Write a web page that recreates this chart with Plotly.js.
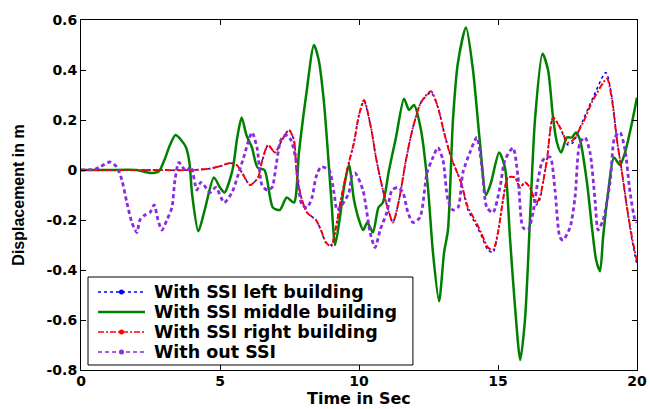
<!DOCTYPE html>
<html>
<head>
<meta charset="utf-8">
<script src="https://cdn.plot.ly/plotly-3.0.1.min.js"></script>
<style>html,body{margin:0;padding:0;background:#fff}#chart{width:650px;height:409px}</style>
</head>
<body>
<div id="chart"></div>
<script>
// Time (s) and displacement (m)
var redT = [0,2,4,4.6,5.0,5.36,5.6,5.79,6.08,6.37,6.5,6.73,6.98,7.23,7.48,7.66,7.77,7.95,8.13,8.45,8.63,8.81,9.0,9.17,9.35,9.57,9.82,10.0,10.18,10.43,10.61,10.86,11.08,11.22,11.44,11.69,11.94,12.23,12.59,12.84,13.06,13.31,13.45,13.67,13.92,14.17,14.39,14.64,14.82,15.0,15.18,15.36,15.61,15.79,15.97,16.15,16.37,16.5,16.62,16.76,16.98,17.23,17.52,17.7,18.06,18.42,18.92,19.1,19.28,19.46,19.64,19.82,20];
var redV = [0,0,0,0.005,0.015,0.028,0.02,-0.01,-0.06,-0.03,0.03,0.1,0.07,0.12,0.16,0.12,-0.03,-0.12,-0.17,-0.2,-0.24,-0.29,-0.305,-0.23,-0.12,0.0,0.11,0.22,0.28,0.17,0.05,-0.08,-0.17,-0.21,-0.12,0.04,0.17,0.27,0.315,0.25,0.15,0.05,0.012,-0.05,-0.15,-0.2,-0.25,-0.31,-0.32,-0.25,-0.12,-0.03,-0.03,-0.07,-0.05,-0.07,-0.13,-0.11,-0.05,0.04,0.21,0.17,0.11,0.12,0.19,0.28,0.365,0.28,0.12,-0.01,-0.15,-0.27,-0.365];

var blueT = [0,2,4,4.6,5.0,5.36,5.6,5.79,6.08,6.37,6.5,6.73,6.98,7.23,7.48,7.66,7.77,7.95,8.13,8.45,8.63,8.81,9.0,9.17,9.35,9.57,9.82,10.0,10.18,10.43,10.61,10.86,11.08,11.22,11.44,11.69,11.94,12.23,12.59,12.84,13.06,13.31,13.45,13.67,13.92,14.17,14.39,14.64,14.82,15.0,15.18,15.36,15.61,15.79,15.97,16.15,16.37,16.5,16.62,16.76,16.98,17.23,17.52,17.7,18.06,18.42,18.88,19.1,19.28,19.46,19.64,19.82,20];
var blueV = [0,0,0,0.005,0.015,0.028,0.02,-0.01,-0.06,-0.03,0.03,0.1,0.07,0.12,0.16,0.12,-0.03,-0.12,-0.17,-0.2,-0.24,-0.29,-0.3,-0.23,-0.12,0.0,0.11,0.22,0.275,0.17,0.05,-0.08,-0.17,-0.21,-0.12,0.04,0.17,0.27,0.31,0.25,0.15,0.05,0.012,-0.05,-0.16,-0.21,-0.26,-0.32,-0.33,-0.25,-0.12,-0.03,-0.03,-0.07,-0.05,-0.07,-0.14,-0.12,-0.05,0.04,0.21,0.17,0.1,0.11,0.2,0.29,0.39,0.29,0.12,-0.01,-0.15,-0.28,-0.38];

var greenT = [0,1,2,2.5,2.8,3.0,3.2,3.4,3.6,3.78,3.9,4.0,4.22,4.45,4.78,5.0,5.16,5.45,5.62,5.78,5.95,6.15,6.35,6.6,6.9,7.15,7.4,7.66,7.84,8.1,8.38,8.55,8.74,9.0,9.14,9.3,9.46,9.64,9.82,10.0,10.15,10.3,10.5,10.7,10.86,11.08,11.33,11.62,11.8,11.98,12.23,12.48,12.66,12.88,13.06,13.2,13.38,13.56,13.85,14.1,14.35,14.57,14.75,15.04,15.25,15.43,15.6,15.8,15.97,16.15,16.33,16.6,16.8,16.98,17.12,17.27,17.48,17.66,17.8,17.95,18.2,18.38,18.53,18.67,18.78,18.96,19.17,19.39,19.57,19.82,20];
var greenV = [0,0,0,-0.012,-0.005,0.04,0.1,0.14,0.12,0.09,0.03,-0.1,-0.245,-0.16,-0.03,-0.07,-0.09,0.0,0.13,0.21,0.14,0.09,0.01,0.0,-0.15,-0.16,-0.11,-0.13,0.07,0.3,0.5,0.44,0.27,-0.11,-0.3,-0.2,-0.07,0.02,-0.12,-0.2,-0.24,-0.21,-0.25,-0.15,-0.13,0.0,0.13,0.285,0.24,0.26,0.16,-0.07,-0.33,-0.525,-0.33,-0.24,0.2,0.43,0.57,0.4,0.11,-0.1,-0.05,0.07,0.01,-0.27,-0.53,-0.76,-0.6,-0.2,0.2,0.465,0.4,0.21,0.11,0.07,0.13,0.13,0.15,0.12,-0.05,-0.23,-0.36,-0.405,-0.27,-0.09,0.05,0.02,0.07,0.19,0.29];

var purpleT = [0,0.5,0.68,1.04,1.29,1.47,1.65,1.83,2.01,2.12,2.3,2.48,2.63,2.77,2.91,3.09,3.27,3.38,3.52,3.78,3.95,4.17,4.3,4.42,4.64,4.85,5.15,5.43,5.65,5.85,6.15,6.33,6.51,6.69,6.87,7.01,7.19,7.37,7.55,7.73,7.84,7.95,8.13,8.31,8.45,8.63,8.92,9.1,9.21,9.39,9.64,9.75,9.86,10.14,10.4,10.58,10.76,11.0,11.19,11.4,11.58,11.76,11.94,12.19,12.45,12.66,12.84,13.02,13.2,13.38,13.56,13.74,13.99,14.24,14.42,14.6,14.82,15.07,15.25,15.54,15.72,15.9,16.08,16.26,16.44,16.62,16.87,17.05,17.23,17.34,17.59,17.77,17.95,18.13,18.31,18.49,18.6,18.78,19.03,19.2,19.39,19.57,19.75,19.93,20];
var purpleV = [0,0.003,0.012,0.032,0.012,-0.04,-0.13,-0.21,-0.25,-0.2,-0.18,-0.17,-0.14,-0.2,-0.24,-0.2,-0.15,-0.04,0.03,-0.005,0.012,-0.08,-0.05,-0.06,-0.09,-0.07,-0.13,-0.09,-0.02,0.05,0.15,0.09,-0.06,-0.08,-0.07,0.012,0.12,0.14,0.12,0.04,-0.08,-0.14,-0.15,-0.11,-0.03,0.012,0.0,-0.09,-0.16,-0.14,-0.09,-0.02,-0.012,-0.08,-0.25,-0.31,-0.24,-0.17,-0.08,-0.07,-0.09,-0.17,-0.21,-0.19,-0.01,0.05,0.09,0.04,-0.12,-0.16,-0.15,-0.01,0.07,0.13,0.012,-0.15,-0.17,-0.07,0.04,0.088,-0.028,-0.23,-0.24,-0.17,-0.04,0.04,0.052,-0.08,-0.27,-0.28,-0.23,-0.11,0.11,0.13,0.07,-0.12,-0.24,-0.2,-0.05,0.13,0.15,0.08,-0.09,-0.2,-0.21];

var seriesNames = ['With SSI left building','With SSI middle building','With SSI right building','With out SSI'];
var xTitle = 'Time in Sec';
var yTitle = 'Displacement in m';
var xTicks = [0,5,10,15,20];
var yTicks = [-0.8,-0.6,-0.4,-0.2,0,0.2,0.4,0.6];
var yTickText = ['-0.8','-0.6','-0.4','-0.2','0','0.2','0.4','0.6'];

var COLORS = ['#0000ff', '#008000', '#ff0000', '#8a2be2'];
var DASHES = ['dot', 'solid', '6px,2px,2px,2px', '4px,3px'];
var WIDTHS = [1.5, 2.5, 2, 2.8];
var HAS_MARKER = [true, false, true, true];
var sm = 0.7;

var xs = [blueT, greenT, redT, purpleT];
var ys = [blueV, greenV, redV, purpleV];
var traces = xs.map(function (x, i) {
  return {x: x, y: ys[i], name: seriesNames[i], mode: 'lines',
    line: {color: COLORS[i], width: WIDTHS[i], dash: DASHES[i], shape: 'spline', smoothing: sm},
    showlegend: false};
});

// Legend drawn in paper coordinates (box, samples, labels)
var FONT = 'DejaVu Sans, Liberation Sans, Arial, sans-serif';
var legBox = {x0: 0.0126, x1: 0.597, y0: 0.0143, y1: 0.2657};
var legRowsY = [0.2229, 0.1657, 0.1086, 0.0514];
var legSample = {x0: 0.0306, x1: 0.1151, xm: 0.0728};
var legTextX = 0.1277;

var shapes = [{type: 'rect', xref: 'paper', yref: 'paper', x0: legBox.x0, x1: legBox.x1, y0: legBox.y0, y1: legBox.y1,
  line: {color: '#000', width: 1}, fillcolor: '#fff', layer: 'above'}];
var annotations = [];
legRowsY.forEach(function (yy, i) {
  shapes.push({type: 'line', xref: 'paper', yref: 'paper', x0: legSample.x0, x1: legSample.x1, y0: yy, y1: yy,
    line: {color: COLORS[i], width: i === 1 ? 2.5 : 1.5, dash: DASHES[i]}, layer: 'above'});
  if (HAS_MARKER[i]) {
    shapes.push({type: 'circle', xref: 'paper', yref: 'paper', xsizemode: 'pixel', ysizemode: 'pixel',
      xanchor: legSample.xm, yanchor: yy, x0: -2.5, x1: 2.5, y0: -2.5, y1: 2.5,
      fillcolor: COLORS[i], line: {color: COLORS[i], width: 0}, layer: 'above'});
  }
  annotations.push({xref: 'paper', yref: 'paper', x: legTextX, y: yy, xanchor: 'left', yanchor: 'middle',
    text: seriesNames[i], showarrow: false,
    font: {family: FONT, size: 17.5, weight: 'bold', color: '#000'}});
});
// x-axis title placed at the bottom edge, under the tick labels
annotations.push({xref: 'paper', yref: 'paper', x: 0.5, y: -39 / 350, xanchor: 'center', yanchor: 'bottom',
  borderpad: 0, text: xTitle, showarrow: false,
  font: {family: FONT, size: 16, weight: 'bold', color: '#000'}});

var layout = {
  width: 650, height: 409,
  margin: {l: 81, r: 13, t: 20, b: 39},
  paper_bgcolor: '#fff', plot_bgcolor: '#fff',
  font: {family: FONT, color: '#000', size: 14, weight: 'bold'},
  xaxis: {
    range: [0, 20], tickvals: xTicks, ticktext: xTicks.map(String),
    ticks: 'inside', ticklen: 5, tickcolor: '#000', mirror: 'ticks',
    showline: true, linecolor: '#000', linewidth: 1,
    showgrid: false, zeroline: false, automargin: false, ticklabelstandoff: -2,
    tickfont: {family: FONT, size: 14, weight: 'bold', color: '#000'}
  },
  yaxis: {
    range: [-0.8, 0.6], tickvals: yTicks, ticktext: yTickText,
    ticks: 'inside', ticklen: 5, tickcolor: '#000', mirror: 'ticks',
    showline: true, linecolor: '#000', linewidth: 1,
    showgrid: false, zeroline: false, automargin: false,
    tickfont: {family: FONT, size: 14, weight: 'bold', color: '#000'},
    title: {text: yTitle, standoff: 17, font: {family: 'Liberation Sans, Arial, sans-serif', size: 16, weight: 'bold', color: '#000'}}
  },
  shapes: shapes,
  annotations: annotations,
  showlegend: false
};

Plotly.newPlot('chart', traces, layout, {displayModeBar: false, staticPlot: true});
</script>
</body>
</html>
